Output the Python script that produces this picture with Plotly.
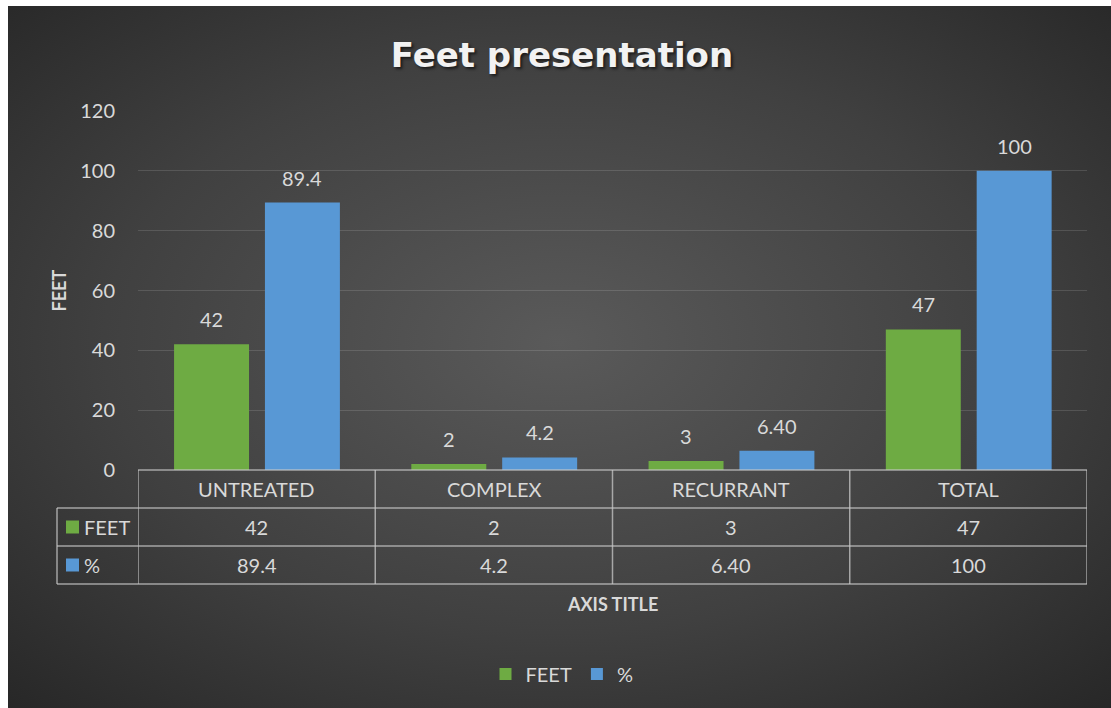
import base64
import plotly.graph_objects as go

# ---- data ----
categories = ["UNTREATED", "COMPLEX", "RECURRANT", "TOTAL"]
series_names = ["FEET", "%"]
feet_values = [42, 2, 3, 47]
pct_values = [89.4, 4.2, 6.4, 100]
feet_labels = ["42", "2", "3", "47"]
pct_labels = ["89.4", "4.2", "6.40", "100"]
y_ticks = [0, 20, 40, 60, 80, 100, 120]

# ---- style ----
W, H = 1111, 708
L, R, T, B = 138, 24, 111, 238
PW, PH = W - L - R, H - T - B
GREEN = "#6eab43"
BLUE = "#5898d5"
TXT = "#d9d9d9"
FONT = "Lato"
LINE = "rgba(200,200,200,0.75)"

def px_x(x):
    return (x - L) / PW

def px_y(y):
    return (H - B - y) / PH

bar_w = 0.316
offs = [-0.348, 0.035]

fig = go.Figure()
for name, vals, col, off in [(series_names[0], feet_values, GREEN, offs[0]),
                             (series_names[1], pct_values, BLUE, offs[1])]:
    fig.add_trace(go.Bar(
        x=categories, y=vals, name=name, width=bar_w, offset=off,
        marker=dict(color=col, line=dict(width=0)),
    ))

annotations = []
# data labels
for labels, vals, off in [(feet_labels, feet_values, offs[0]), (pct_labels, pct_values, offs[1])]:
    for i, (lab, v) in enumerate(zip(labels, vals)):
        annotations.append(dict(
            x=i + off + bar_w / 2, y=v, xref="x", yref="y", text=lab,
            showarrow=False, xanchor="center", yanchor="middle", yshift=25,
            font=dict(family=FONT, size=20, color=TXT)))

# table geometry
row_edges = [470, 508, 546, 584]
row_mid = [489, 527, 565]
left_col = 57
shapes = []
shapes.append(dict(type="line", xref="paper", yref="paper", x0=0, x1=1,
                   y0=px_y(row_edges[0]), y1=px_y(row_edges[0]), line=dict(color=LINE, width=1.5)))
for ye in row_edges[1:]:
    shapes.append(dict(type="line", xref="paper", yref="paper", x0=px_x(left_col), x1=1,
                       y0=px_y(ye), y1=px_y(ye), line=dict(color=LINE, width=1.5)))
for k in range(len(categories) + 1):
    shapes.append(dict(type="line", xref="x", yref="paper", x0=k - 0.5, x1=k - 0.5,
                       y0=px_y(row_edges[0]), y1=px_y(row_edges[-1]), line=dict(color=LINE, width=1.5)))
shapes.append(dict(type="line", xref="paper", yref="paper", x0=px_x(left_col), x1=px_x(left_col),
                   y0=px_y(row_edges[1]), y1=px_y(row_edges[-1]), line=dict(color=LINE, width=1.5)))

cell_font = dict(family=FONT, size=20, color=TXT)
for i, c in enumerate(categories):
    annotations.append(dict(x=i, y=px_y(row_mid[0]), xref="x", yref="paper", text=c,
                            xanchor="center", yanchor="middle", showarrow=False, font=cell_font))
for r, (name, labels, col) in enumerate([(series_names[0], feet_labels, GREEN),
                                         (series_names[1], pct_labels, BLUE)]):
    ym = row_mid[r + 1]
    for i, lab in enumerate(labels):
        annotations.append(dict(x=i, y=px_y(ym), xref="x", yref="paper", text=lab,
                                xanchor="center", yanchor="middle", showarrow=False, font=cell_font))
    shapes.append(dict(type="rect", xref="paper", yref="paper",
                       x0=px_x(66), x1=px_x(79), y0=px_y(ym + 6.5), y1=px_y(ym - 6.5),
                       fillcolor=col, line=dict(width=0)))
    annotations.append(dict(x=px_x(82), y=px_y(ym), xref="paper", yref="paper", text=name,
                            xanchor="left", yanchor="middle", showarrow=False, font=cell_font))

# axis titles
annotations.append(dict(x=0.5, y=px_y(604), xref="paper", yref="paper", text="<b>AXIS TITLE</b>",
                        xanchor="center", yanchor="middle",
                        showarrow=False, font=dict(family=FONT, size=18, color=TXT)))
annotations.append(dict(x=px_x(58), y=0.5, xref="paper", yref="paper", text="<b>FEET</b>",
                        xanchor="center", yanchor="middle",
                        textangle=-90, showarrow=False, font=dict(family=FONT, size=18, color=TXT)))

# background gradient
svg = ('<svg xmlns="http://www.w3.org/2000/svg" width="1103" height="702" viewBox="0 0 1103 702" '
       'preserveAspectRatio="none"><defs><radialGradient id="g" cx="50%" cy="48%" r="75%">'
       '<stop offset="0%" stop-color="#5a5a5a"/><stop offset="55%" stop-color="#404040"/>'
       '<stop offset="100%" stop-color="#252525"/></radialGradient></defs>'
       '<rect x="0" y="0" width="1103" height="702" fill="url(#g)"/></svg>')
src = "data:image/svg+xml;base64," + base64.b64encode(svg.encode()).decode()

fig.update_layout(
    width=W, height=H,
    margin=dict(l=L, r=R, t=T, b=B, pad=0),
    paper_bgcolor="white", plot_bgcolor="rgba(0,0,0,0)",
    barmode="overlay",
    title=dict(text="<b>Feet presentation</b>", x=562 / W, xanchor="center",
               y=1 - 55 / H, yanchor="middle", xref="container", yref="container",
               font=dict(family="DejaVu Sans", size=34, color="#f2f2f2",
                         shadow="2px 2px 3px rgba(0,0,0,0.6)")),
    xaxis=dict(range=[-0.5, 3.5], showticklabels=False, showgrid=False, zeroline=False,
               showline=False, ticks=""),
    yaxis=dict(range=[0, 120], tickvals=y_ticks, showgrid=True, gridcolor="rgba(255,255,255,0.13)",
               gridwidth=1, zeroline=False, showline=False, ticks="", ticklabelstandoff=22,
               tickfont=dict(family=FONT, size=20, color=TXT)),
    legend=dict(orientation="h", x=px_x(562), xanchor="center", y=px_y(674), yanchor="middle",
                font=dict(family=FONT, size=20, color=TXT), bgcolor="rgba(0,0,0,0)",
                itemwidth=30, traceorder="normal"),
    showlegend=True,
    annotations=annotations,
    shapes=shapes,
    images=[dict(source=src, xref="paper", yref="paper", x=px_x(8), y=px_y(6),
                 sizex=px_x(1111) - px_x(8), sizey=px_y(6) - px_y(708),
                 xanchor="left", yanchor="top", sizing="stretch", layer="below")],
)

fig.write_html("out.html")
